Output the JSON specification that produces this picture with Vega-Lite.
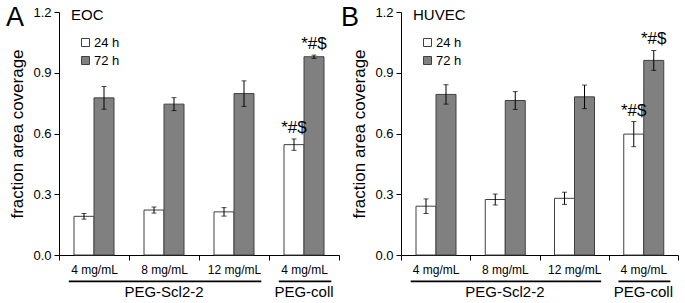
{
  "$schema": "https://vega.github.io/schema/vega-lite/v6.json",
  "padding": {"left": 5, "top": 4, "right": 2, "bottom": 0},
  "config": {
    "font": "Liberation Sans",
    "view": {"stroke": null},
    "axis": {"domainColor": "#000000", "tickColor": "#000000", "labelColor": "#000000", "titleColor": "#000000", "grid": false, "domainWidth": 1, "tickWidth": 1}
  },
  "datasets": {
    "bars": [
      {"panel": "EOC", "cond": "S4", "time": "24 h", "mean": 0.191, "lo": 0.177, "hi": 0.205},
      {"panel": "EOC", "cond": "S8", "time": "24 h", "mean": 0.222, "lo": 0.207, "hi": 0.237},
      {"panel": "EOC", "cond": "S12", "time": "24 h", "mean": 0.213, "lo": 0.192, "hi": 0.234},
      {"panel": "EOC", "cond": "C4", "time": "24 h", "mean": 0.545, "lo": 0.517, "hi": 0.573},
      {"panel": "EOC", "cond": "S4", "time": "72 h", "mean": 0.776, "lo": 0.72, "hi": 0.832},
      {"panel": "EOC", "cond": "S8", "time": "72 h", "mean": 0.745, "lo": 0.713, "hi": 0.777},
      {"panel": "EOC", "cond": "S12", "time": "72 h", "mean": 0.797, "lo": 0.734, "hi": 0.86},
      {"panel": "EOC", "cond": "C4", "time": "72 h", "mean": 0.979, "lo": 0.971, "hi": 0.987},
      {"panel": "HUVEC", "cond": "S4", "time": "24 h", "mean": 0.241, "lo": 0.205, "hi": 0.277},
      {"panel": "HUVEC", "cond": "S8", "time": "24 h", "mean": 0.274, "lo": 0.247, "hi": 0.301},
      {"panel": "HUVEC", "cond": "S12", "time": "24 h", "mean": 0.28, "lo": 0.25, "hi": 0.31},
      {"panel": "HUVEC", "cond": "C4", "time": "24 h", "mean": 0.597, "lo": 0.535, "hi": 0.659},
      {"panel": "HUVEC", "cond": "S4", "time": "72 h", "mean": 0.793, "lo": 0.745, "hi": 0.841},
      {"panel": "HUVEC", "cond": "S8", "time": "72 h", "mean": 0.763, "lo": 0.719, "hi": 0.807},
      {"panel": "HUVEC", "cond": "S12", "time": "72 h", "mean": 0.781, "lo": 0.723, "hi": 0.839},
      {"panel": "HUVEC", "cond": "C4", "time": "72 h", "mean": 0.961, "lo": 0.912, "hi": 1.01}
    ],
    "groups": [
      {"start": "S4", "end": "S12", "mid": "S8", "label": "PEG-Scl2-2"},
      {"start": "C4", "end": "C4", "mid": "C4", "label": "PEG-coll"}
    ],
    "notes": [
      {"panel": "EOC", "cond": "C4", "time": "24 h", "hi": 0.573, "txt": "*#$"},
      {"panel": "EOC", "cond": "C4", "time": "72 h", "hi": 0.987, "txt": "*#$"},
      {"panel": "HUVEC", "cond": "C4", "time": "24 h", "hi": 0.659, "txt": "*#$"},
      {"panel": "HUVEC", "cond": "C4", "time": "72 h", "hi": 1.01, "txt": "*#$"}
    ]
  },
  "hconcat": [
    {
      "width": 280,
      "height": 243,
      "title": {"text": "A", "anchor": "start", "frame": "bounds", "orient": "top", "offset": -26, "dx": -3, "fontSize": 27, "fontWeight": "normal"},
      "encoding": {
        "x": {"field": "cond", "type": "nominal", "sort": ["S4", "S8", "S12", "C4"],
          "scale": {"domain": ["S4", "S8", "S12", "C4"], "paddingInner": 0, "paddingOuter": 0},
          "axis": {"title": null, "labelAngle": 0, "labelFontSize": 12, "labelPadding": 4, "tickBand": "extent", "tickSize": 5,
            "labelExpr": "datum.value == 'S4' || datum.value == 'C4' ? '4 mg/mL' : datum.value == 'S8' ? '8 mg/mL' : datum.value == 'S12' ? '12 mg/mL' : ''"}},
        "y": {"type": "quantitative", "scale": {"domain": [0, 1.2], "nice": false},
          "axis": {"title": "fraction area coverage", "titleFontSize": 17, "titleFontWeight": "normal", "titlePadding": 6, "labelFontSize": 13, "values": [0, 0.3, 0.6, 0.9, 1.2], "format": ".1f", "tickSize": 5, "labelPadding": 3}}
      },
      "layer": [
        {
          "data": {"name": "bars"},
          "transform": [{"filter": "datum.panel == 'EOC'"}],
          "mark": {"type": "bar", "stroke": "#404040", "strokeWidth": 1},
          "encoding": {
            "y": {"field": "mean", "type": "quantitative"},
            "xOffset": {"field": "time", "type": "nominal", "scale": {"paddingInner": 0, "paddingOuter": 0.75}},
            "fill": {"field": "time", "type": "nominal", "scale": {"domain": ["24 h", "72 h"], "range": ["#ffffff", "#808080"]},
              "legend": {"title": null, "orient": "none", "legendX": 20, "legendY": 24, "symbolType": "square", "symbolSize": 64, "symbolStrokeColor": "#404040", "symbolStrokeWidth": 1, "labelFontSize": 13, "rowPadding": 4, "labelOffset": 2}}
          }
        },
        {
          "data": {"name": "bars"},
          "transform": [{"filter": "datum.panel == 'EOC'"}],
          "mark": {"type": "rule", "color": "#000000", "strokeWidth": 1},
          "encoding": {
            "y": {"field": "lo", "type": "quantitative"},
            "y2": {"field": "hi"},
            "xOffset": {"field": "time", "type": "nominal"}
          }
        },
        {
          "data": {"name": "bars"},
          "transform": [{"filter": "datum.panel == 'EOC'"}, {"fold": ["lo", "hi"], "as": ["k", "v"]}],
          "mark": {"type": "tick", "color": "#000000", "size": 5, "thickness": 1, "orient": "horizontal"},
          "encoding": {
            "y": {"field": "v", "type": "quantitative"},
            "xOffset": {"field": "time", "type": "nominal"}
          }
        },
        {
          "data": {"name": "notes"},
          "transform": [{"filter": "datum.panel == 'EOC'"}],
          "mark": {"type": "text", "fontSize": 17, "baseline": "alphabetic", "dy": -6, "color": "#000000"},
          "encoding": {
            "y": {"field": "hi", "type": "quantitative"},
            "xOffset": {"field": "time", "type": "nominal"},
            "text": {"field": "txt"}
          }
        },
        {
          "data": {"name": "groups"},
          "mark": {"type": "rule", "color": "#000000", "strokeWidth": 1.8},
          "encoding": {
            "x": {"field": "start", "type": "nominal", "bandPosition": 0.14},
            "x2": {"field": "end", "bandPosition": 0.89},
            "y": {"datum": -0.13}
          }
        },
        {
          "data": {"name": "groups"},
          "mark": {"type": "text", "fontSize": 15, "baseline": "middle", "color": "#000000"},
          "encoding": {
            "x": {"field": "mid", "type": "nominal"},
            "y": {"datum": -0.185},
            "text": {"field": "label"}
          }
        },
        {
          "data": {"values": [{"t": "EOC"}]},
          "mark": {"type": "text", "fontSize": 15, "align": "left", "baseline": "middle", "dx": 12, "color": "#000000"},
          "encoding": {
            "x": {"datum": "S4", "bandPosition": 0},
            "y": {"datum": 1.185},
            "text": {"field": "t"}
          }
        }
      ]
    },
    {
      "width": 277,
      "height": 243,
      "title": {"text": "B", "anchor": "start", "frame": "bounds", "orient": "top", "offset": -26, "dx": -10, "fontSize": 27, "fontWeight": "normal"},
      "encoding": {
        "x": {"field": "cond", "type": "nominal", "sort": ["S4", "S8", "S12", "C4"],
          "scale": {"domain": ["S4", "S8", "S12", "C4"], "paddingInner": 0, "paddingOuter": 0},
          "axis": {"title": null, "labelAngle": 0, "labelFontSize": 12, "labelPadding": 4, "tickBand": "extent", "tickSize": 5,
            "labelExpr": "datum.value == 'S4' || datum.value == 'C4' ? '4 mg/mL' : datum.value == 'S8' ? '8 mg/mL' : datum.value == 'S12' ? '12 mg/mL' : ''"}},
        "y": {"type": "quantitative", "scale": {"domain": [0, 1.2], "nice": false},
          "axis": {"title": "fraction area coverage", "titleFontSize": 17, "titleFontWeight": "normal", "titlePadding": 6, "labelFontSize": 13, "values": [0, 0.3, 0.6, 0.9, 1.2], "format": ".1f", "tickSize": 5, "labelPadding": 3}}
      },
      "layer": [
        {
          "data": {"name": "bars"},
          "transform": [{"filter": "datum.panel == 'HUVEC'"}],
          "mark": {"type": "bar", "stroke": "#404040", "strokeWidth": 1},
          "encoding": {
            "y": {"field": "mean", "type": "quantitative"},
            "xOffset": {"field": "time", "type": "nominal", "scale": {"paddingInner": 0, "paddingOuter": 0.75}},
            "fill": {"field": "time", "type": "nominal", "scale": {"domain": ["24 h", "72 h"], "range": ["#ffffff", "#808080"]},
              "legend": {"title": null, "orient": "none", "legendX": 20, "legendY": 24, "symbolType": "square", "symbolSize": 64, "symbolStrokeColor": "#404040", "symbolStrokeWidth": 1, "labelFontSize": 13, "rowPadding": 4, "labelOffset": 2}}
          }
        },
        {
          "data": {"name": "bars"},
          "transform": [{"filter": "datum.panel == 'HUVEC'"}],
          "mark": {"type": "rule", "color": "#000000", "strokeWidth": 1},
          "encoding": {
            "y": {"field": "lo", "type": "quantitative"},
            "y2": {"field": "hi"},
            "xOffset": {"field": "time", "type": "nominal"}
          }
        },
        {
          "data": {"name": "bars"},
          "transform": [{"filter": "datum.panel == 'HUVEC'"}, {"fold": ["lo", "hi"], "as": ["k", "v"]}],
          "mark": {"type": "tick", "color": "#000000", "size": 5, "thickness": 1, "orient": "horizontal"},
          "encoding": {
            "y": {"field": "v", "type": "quantitative"},
            "xOffset": {"field": "time", "type": "nominal"}
          }
        },
        {
          "data": {"name": "notes"},
          "transform": [{"filter": "datum.panel == 'HUVEC'"}],
          "mark": {"type": "text", "fontSize": 17, "baseline": "alphabetic", "dy": -6, "color": "#000000"},
          "encoding": {
            "y": {"field": "hi", "type": "quantitative"},
            "xOffset": {"field": "time", "type": "nominal"},
            "text": {"field": "txt"}
          }
        },
        {
          "data": {"name": "groups"},
          "mark": {"type": "rule", "color": "#000000", "strokeWidth": 1.8},
          "encoding": {
            "x": {"field": "start", "type": "nominal", "bandPosition": 0.14},
            "x2": {"field": "end", "bandPosition": 0.89},
            "y": {"datum": -0.13}
          }
        },
        {
          "data": {"name": "groups"},
          "mark": {"type": "text", "fontSize": 15, "baseline": "middle", "color": "#000000"},
          "encoding": {
            "x": {"field": "mid", "type": "nominal"},
            "y": {"datum": -0.185},
            "text": {"field": "label"}
          }
        },
        {
          "data": {"values": [{"t": "HUVEC"}]},
          "mark": {"type": "text", "fontSize": 15, "align": "left", "baseline": "middle", "dx": 12, "color": "#000000"},
          "encoding": {
            "x": {"datum": "S4", "bandPosition": 0},
            "y": {"datum": 1.185},
            "text": {"field": "t"}
          }
        }
      ]
    }
  ],
  "spacing": 0,
  "resolve": {"scale": {"fill": "independent"}, "legend": {"fill": "independent"}}
}
